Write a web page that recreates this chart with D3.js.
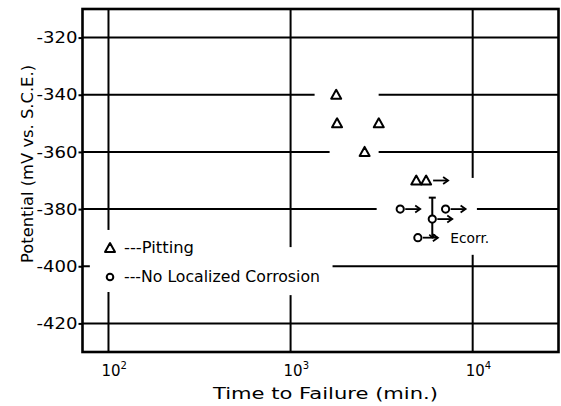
<!DOCTYPE html>
<html><head><meta charset="utf-8">
<script src="https://cdn.jsdelivr.net/npm/d3@7"></script>
<style>
html,body{margin:0;padding:0;background:#fff;}
svg{display:block;}
text{font-family:"DejaVu Sans",sans-serif;fill:#000;}
</style></head>
<body><svg id="c" width="561" height="406"></svg>
<script>
// ---- data ----
const pitTime   = [1780, 1800, 3050, 2550, 4900, 5550];
const pitPot    = [-340, -350, -350, -360, -370, -370];
const pitRunout = [false, false, false, false, false, true];

const nlcTime   = [4000, 7100, 6000, 5000];
const nlcPot    = [-380, -380, -383.5, -390];
const nlcRunout = [true, true, true, true];

const ecorrTime = [6000];
const ecorrLow  = [-390];
const ecorrHigh = [-376];

const xTicks = [100, 1000, 10000];
const xTickExp = ["2", "3", "4"];
const yTicks = [-320, -340, -360, -380, -400, -420];

// grid segments (data units), broken where the original chart had gaps
const hGrid = [
  {y:-320, segs:[[72, 29600]]},
  {y:-340, segs:[[72, 1355], [3045, 29600]]},
  {y:-360, segs:[[72, 1638], [3045, 29600]]},
  {y:-380, segs:[[72, 2970], [10550, 29600]]},
  {y:-400, segs:[[72, 79], [1700, 29600]]},
  {y:-420, segs:[[72, 29600]]}
];
const vGrid = [
  {x:100,   segs:[[-310, -387.3], [-409, -430]]},
  {x:1000,  segs:[[-310, -393.3], [-410.1, -430]]},
  {x:10000, segs:[[-310, -369.1], [-396, -430]]}
];

const legendLabels = ["---Pitting", "---No Localized Corrosion"];
const xTitle = "Time  to  Failure  (min.)";
const yTitle = "Potential  (mV vs. S.C.E.)";
const ecorrLabel = "Ecorr.";

// ---- scales ----
const L = 82.5, R = 558.5, T = 9, B = 352;
const x = d3.scaleLog().domain([72, 29600]).range([L, R]);
const y = d3.scaleLinear().domain([-430, -310]).range([B, T]);

const svg = d3.select("#c");

// grid
const g = svg.append("g").attr("stroke", "#000").attr("stroke-width", 2).attr("fill", "none");
hGrid.forEach(h => h.segs.forEach(s => {
  g.append("line").attr("x1", x(s[0])).attr("x2", x(s[1])).attr("y1", y(h.y)).attr("y2", y(h.y));
}));
vGrid.forEach(v => v.segs.forEach(s => {
  g.append("line").attr("x1", x(v.x)).attr("x2", x(v.x)).attr("y1", y(s[0])).attr("y2", y(s[1]));
}));

// frame
svg.append("rect").attr("x", L).attr("y", T).attr("width", R - L).attr("height", B - T)
  .attr("fill", "none").attr("stroke", "#000").attr("stroke-width", 2.6);

// y axis
const ya = svg.append("g").attr("transform", `translate(${L},0)`)
  .call(d3.axisLeft(y).tickValues(yTicks).tickSize(4).tickPadding(1).tickFormat(d => "-" + Math.abs(d)));
ya.select(".domain").remove();
ya.selectAll(".tick line").attr("stroke", "#000").attr("stroke-width", 2);
ya.selectAll(".tick text").attr("font-size", 16).attr("font-family", "DejaVu Sans")
  .attr("textLength", 41).attr("lengthAdjust", "spacingAndGlyphs");

// x axis
const xa = svg.append("g").attr("transform", `translate(0,${B})`)
  .call(d3.axisBottom(x).tickValues(xTicks).tickSize(0).tickPadding(8).tickFormat(() => "10"));
xa.select(".domain").remove();
xa.selectAll(".tick text").each(function(d, i) {
  const t = d3.select(this);
  t.attr("font-size", 15).attr("font-family", "DejaVu Sans").attr("text-anchor", "start").attr("x", -7.5).attr("dy", "1.05em");
  t.text("10");
  t.append("tspan").attr("dy", -7).attr("font-size", 10).text(xTickExp[i]);
});

// axis titles
svg.append("text").attr("x", 325.5).attr("y", 399).attr("text-anchor", "middle")
  .attr("font-size", 16).attr("textLength", 225).attr("lengthAdjust", "spacingAndGlyphs").text(xTitle);
svg.append("text").attr("transform", "translate(33,164) rotate(-90)").attr("text-anchor", "middle")
  .attr("font-size", 16).attr("textLength", 198).attr("lengthAdjust", "spacingAndGlyphs").text(yTitle);

// markers
const triPath = (cx, cy) => `M${cx - 5},${cy + 4} L${cx + 5},${cy + 4} L${cx},${cy - 5} Z`;
const marks = svg.append("g").attr("stroke", "#000").attr("fill", "none").attr("stroke-width", 2);

function arrow(cx, cy) {
  const a = marks.append("g");
  a.append("line").attr("x1", cx + 5).attr("x2", cx + 20).attr("y1", cy).attr("y2", cy).attr("stroke-width", 1.8);
  a.append("path").attr("d", `M${cx + 15},${cy - 3.5} L${cx + 20},${cy} L${cx + 15},${cy + 3.5}`).attr("stroke-width", 1.8);
}

// Ecorr error bar
ecorrTime.forEach((t, i) => {
  const cx = x(t);
  marks.append("line").attr("x1", cx).attr("x2", cx).attr("y1", y(ecorrHigh[i])).attr("y2", y(ecorrLow[i])).attr("stroke-width", 2);
  marks.append("line").attr("x1", cx - 3.5).attr("x2", cx + 3.5).attr("y1", y(ecorrHigh[i])).attr("y2", y(ecorrHigh[i])).attr("stroke-width", 2);
  marks.append("path").attr("d", `M${cx - 3},${y(ecorrLow[i]) - 3} L${cx},${y(ecorrLow[i])} L${cx + 3},${y(ecorrLow[i]) - 3}`).attr("stroke-width", 1.6);
  svg.append("text").attr("x", cx + 18).attr("y", y(ecorrLow[i]) + 5).attr("font-size", 14)
    .attr("textLength", 39).attr("lengthAdjust", "spacingAndGlyphs").text(ecorrLabel);
});

pitTime.forEach((t, i) => {
  const cx = x(t), cy = y(pitPot[i]);
  marks.append("path").attr("d", triPath(cx, cy)).attr("stroke-linejoin", "round").attr("fill", "#fff");
  if (pitRunout[i]) arrow(cx + 2, cy);
});
nlcTime.forEach((t, i) => {
  const cx = x(t), cy = y(nlcPot[i]);
  marks.append("circle").attr("cx", cx).attr("cy", cy).attr("r", 3.6).attr("fill", "#fff");
  if (nlcRunout[i]) arrow(cx, cy);
});

// legend
const lg = svg.append("g");
lg.append("path").attr("d", triPath(110, 248)).attr("stroke", "#000").attr("stroke-width", 2).attr("fill", "none").attr("stroke-linejoin", "round");
lg.append("circle").attr("cx", 110).attr("cy", 277).attr("r", 3.3).attr("stroke", "#000").attr("stroke-width", 2).attr("fill", "none");
lg.append("text").attr("x", 124).attr("y", 253).attr("font-size", 15)
  .attr("textLength", 70).attr("lengthAdjust", "spacingAndGlyphs").text(legendLabels[0]);
lg.append("text").attr("x", 124).attr("y", 282).attr("font-size", 15)
  .attr("textLength", 196).attr("lengthAdjust", "spacingAndGlyphs").text(legendLabels[1]);
</script></body></html>
